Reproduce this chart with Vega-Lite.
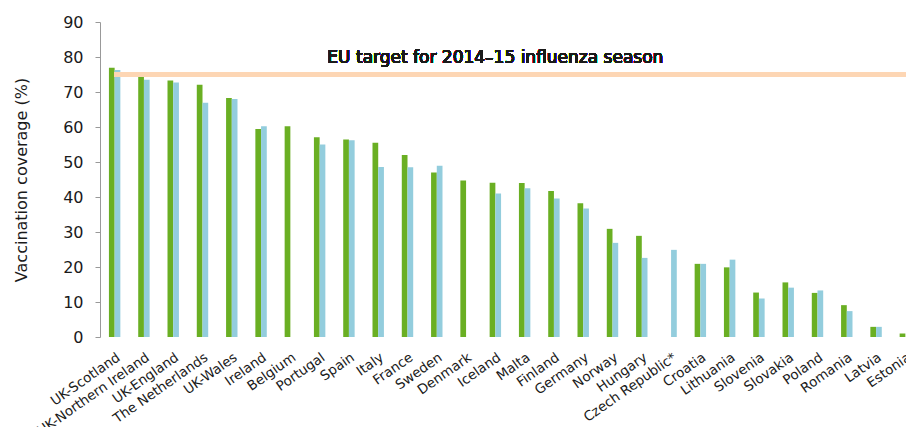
{
  "$schema": "https://vega.github.io/schema/vega-lite/v6.json",
  "autosize": "none",
  "padding": {"left": 100, "top": 22, "right": 0, "bottom": 90},
  "width": 820,
  "height": 315,
  "background": "white",
  "config": {
    "view": {"stroke": null},
    "font": "DejaVu Sans",
    "axisY": {
      "titleFontSize": 16,
      "titleFontWeight": "normal",
      "titleColor": "#1a1a1a",
      "titleFont": "DejaVu Sans",
      "titlePadding": 33,
      "labelFontSize": 16,
      "labelColor": "#1a1a1a",
      "labelFont": "DejaVu Sans",
      "labelPadding": 12,
      "labelOverlap": false,
      "labelBound": false,
      "grid": false,
      "domainColor": "#999",
      "tickColor": "#999",
      "tickSize": 5
    }
  },
  "data": {
    "values": [
      {"country": "UK-Scotland", "season": "2013–14", "coverage": 76.9},
      {"country": "UK-Scotland", "season": "2012–13", "coverage": 76.3},
      {"country": "UK-Northern Ireland", "season": "2013–14", "coverage": 74.5},
      {"country": "UK-Northern Ireland", "season": "2012–13", "coverage": 73.5},
      {"country": "UK-England", "season": "2013–14", "coverage": 73.3},
      {"country": "UK-England", "season": "2012–13", "coverage": 72.7},
      {"country": "The Netherlands", "season": "2013–14", "coverage": 72.1},
      {"country": "The Netherlands", "season": "2012–13", "coverage": 66.9},
      {"country": "UK-Wales", "season": "2013–14", "coverage": 68.3},
      {"country": "UK-Wales", "season": "2012–13", "coverage": 68.0},
      {"country": "Ireland", "season": "2013–14", "coverage": 59.4},
      {"country": "Ireland", "season": "2012–13", "coverage": 60.2},
      {"country": "Belgium", "season": "2013–14", "coverage": 60.2},
      {"country": "Portugal", "season": "2013–14", "coverage": 57.1},
      {"country": "Portugal", "season": "2012–13", "coverage": 55.0},
      {"country": "Spain", "season": "2013–14", "coverage": 56.4},
      {"country": "Spain", "season": "2012–13", "coverage": 56.2},
      {"country": "Italy", "season": "2013–14", "coverage": 55.5},
      {"country": "Italy", "season": "2012–13", "coverage": 48.6},
      {"country": "France", "season": "2013–14", "coverage": 52.0},
      {"country": "France", "season": "2012–13", "coverage": 48.5},
      {"country": "Sweden", "season": "2013–14", "coverage": 47.0},
      {"country": "Sweden", "season": "2012–13", "coverage": 48.9},
      {"country": "Denmark", "season": "2013–14", "coverage": 44.7},
      {"country": "Iceland", "season": "2013–14", "coverage": 44.1},
      {"country": "Iceland", "season": "2012–13", "coverage": 41.0},
      {"country": "Malta", "season": "2013–14", "coverage": 44.0},
      {"country": "Malta", "season": "2012–13", "coverage": 42.5},
      {"country": "Finland", "season": "2013–14", "coverage": 41.7},
      {"country": "Finland", "season": "2012–13", "coverage": 39.6},
      {"country": "Germany", "season": "2013–14", "coverage": 38.2},
      {"country": "Germany", "season": "2012–13", "coverage": 36.7},
      {"country": "Norway", "season": "2013–14", "coverage": 30.9},
      {"country": "Norway", "season": "2012–13", "coverage": 26.9},
      {"country": "Hungary", "season": "2013–14", "coverage": 28.9},
      {"country": "Hungary", "season": "2012–13", "coverage": 22.6},
      {"country": "Czech Republic*", "season": "2012–13", "coverage": 24.9},
      {"country": "Croatia", "season": "2013–14", "coverage": 20.9},
      {"country": "Croatia", "season": "2012–13", "coverage": 20.9},
      {"country": "Lithuania", "season": "2013–14", "coverage": 19.9},
      {"country": "Lithuania", "season": "2012–13", "coverage": 22.1},
      {"country": "Slovenia", "season": "2013–14", "coverage": 12.7},
      {"country": "Slovenia", "season": "2012–13", "coverage": 11.0},
      {"country": "Slovakia", "season": "2013–14", "coverage": 15.6},
      {"country": "Slovakia", "season": "2012–13", "coverage": 14.1},
      {"country": "Poland", "season": "2013–14", "coverage": 12.6},
      {"country": "Poland", "season": "2012–13", "coverage": 13.3},
      {"country": "Romania", "season": "2013–14", "coverage": 9.1},
      {"country": "Romania", "season": "2012–13", "coverage": 7.4},
      {"country": "Latvia", "season": "2013–14", "coverage": 2.9},
      {"country": "Latvia", "season": "2012–13", "coverage": 2.9},
      {"country": "Estonia", "season": "2013–14", "coverage": 1.0}
    ]
  },
  "layer": [
    {
      "mark": {"type": "bar"},
      "encoding": {
        "x": {
          "field": "country",
          "type": "nominal",
          "sort": null,
          "scale": {"paddingInner": 0.61, "paddingOuter": 0.305},
          "axis": {
            "title": null,
            "labelAngle": -35,
            "labelFontSize": 13.5,
            "labelColor": "#1a1a1a",
            "labelFont": "DejaVu Sans",
            "domain": false,
            "ticks": false,
            "labelPadding": 13,
            "labelOverlap": false,
            "labelBound": false
          }
        },
        "xOffset": {
          "field": "season",
          "type": "nominal",
          "sort": ["2013–14", "2012–13"],
          "scale": {"paddingInner": 0, "paddingOuter": 0}
        },
        "y": {
          "field": "coverage",
          "type": "quantitative",
          "scale": {"domain": [0, 90], "nice": false},
          "axis": {"title": "Vaccination coverage (%)", "values": [0, 10, 20, 30, 40, 50, 60, 70, 80, 90]}
        },
        "color": {
          "field": "season",
          "type": "nominal",
          "scale": {"domain": ["2013–14", "2012–13"], "range": ["#6aaf23", "#93cddd"]},
          "legend": null
        }
      }
    },
    {
      "mark": {"type": "rule", "color": "#fdd6b4", "strokeWidth": 4.5},
      "encoding": {
        "x": {"datum": "UK-Scotland"},
        "x2": {"datum": "Estonia"},
        "y": {"datum": 75, "type": "quantitative", "axis": {"title": "Vaccination coverage (%)", "values": [0, 10, 20, 30, 40, 50, 60, 70, 80, 90]}}
      }
    },
    {
      "mark": {"type": "text", "text": "EU target for 2014–15 influenza season", "fontSize": 17, "font": "DejaVu Sans", "color": "#1a1a1a", "align": "center", "dy": -17},
      "encoding": {
        "x": {"datum": "Iceland"},
        "y": {"datum": 75, "type": "quantitative", "axis": {"title": "Vaccination coverage (%)", "values": [0, 10, 20, 30, 40, 50, 60, 70, 80, 90]}}
      }
    }
  ]
}
